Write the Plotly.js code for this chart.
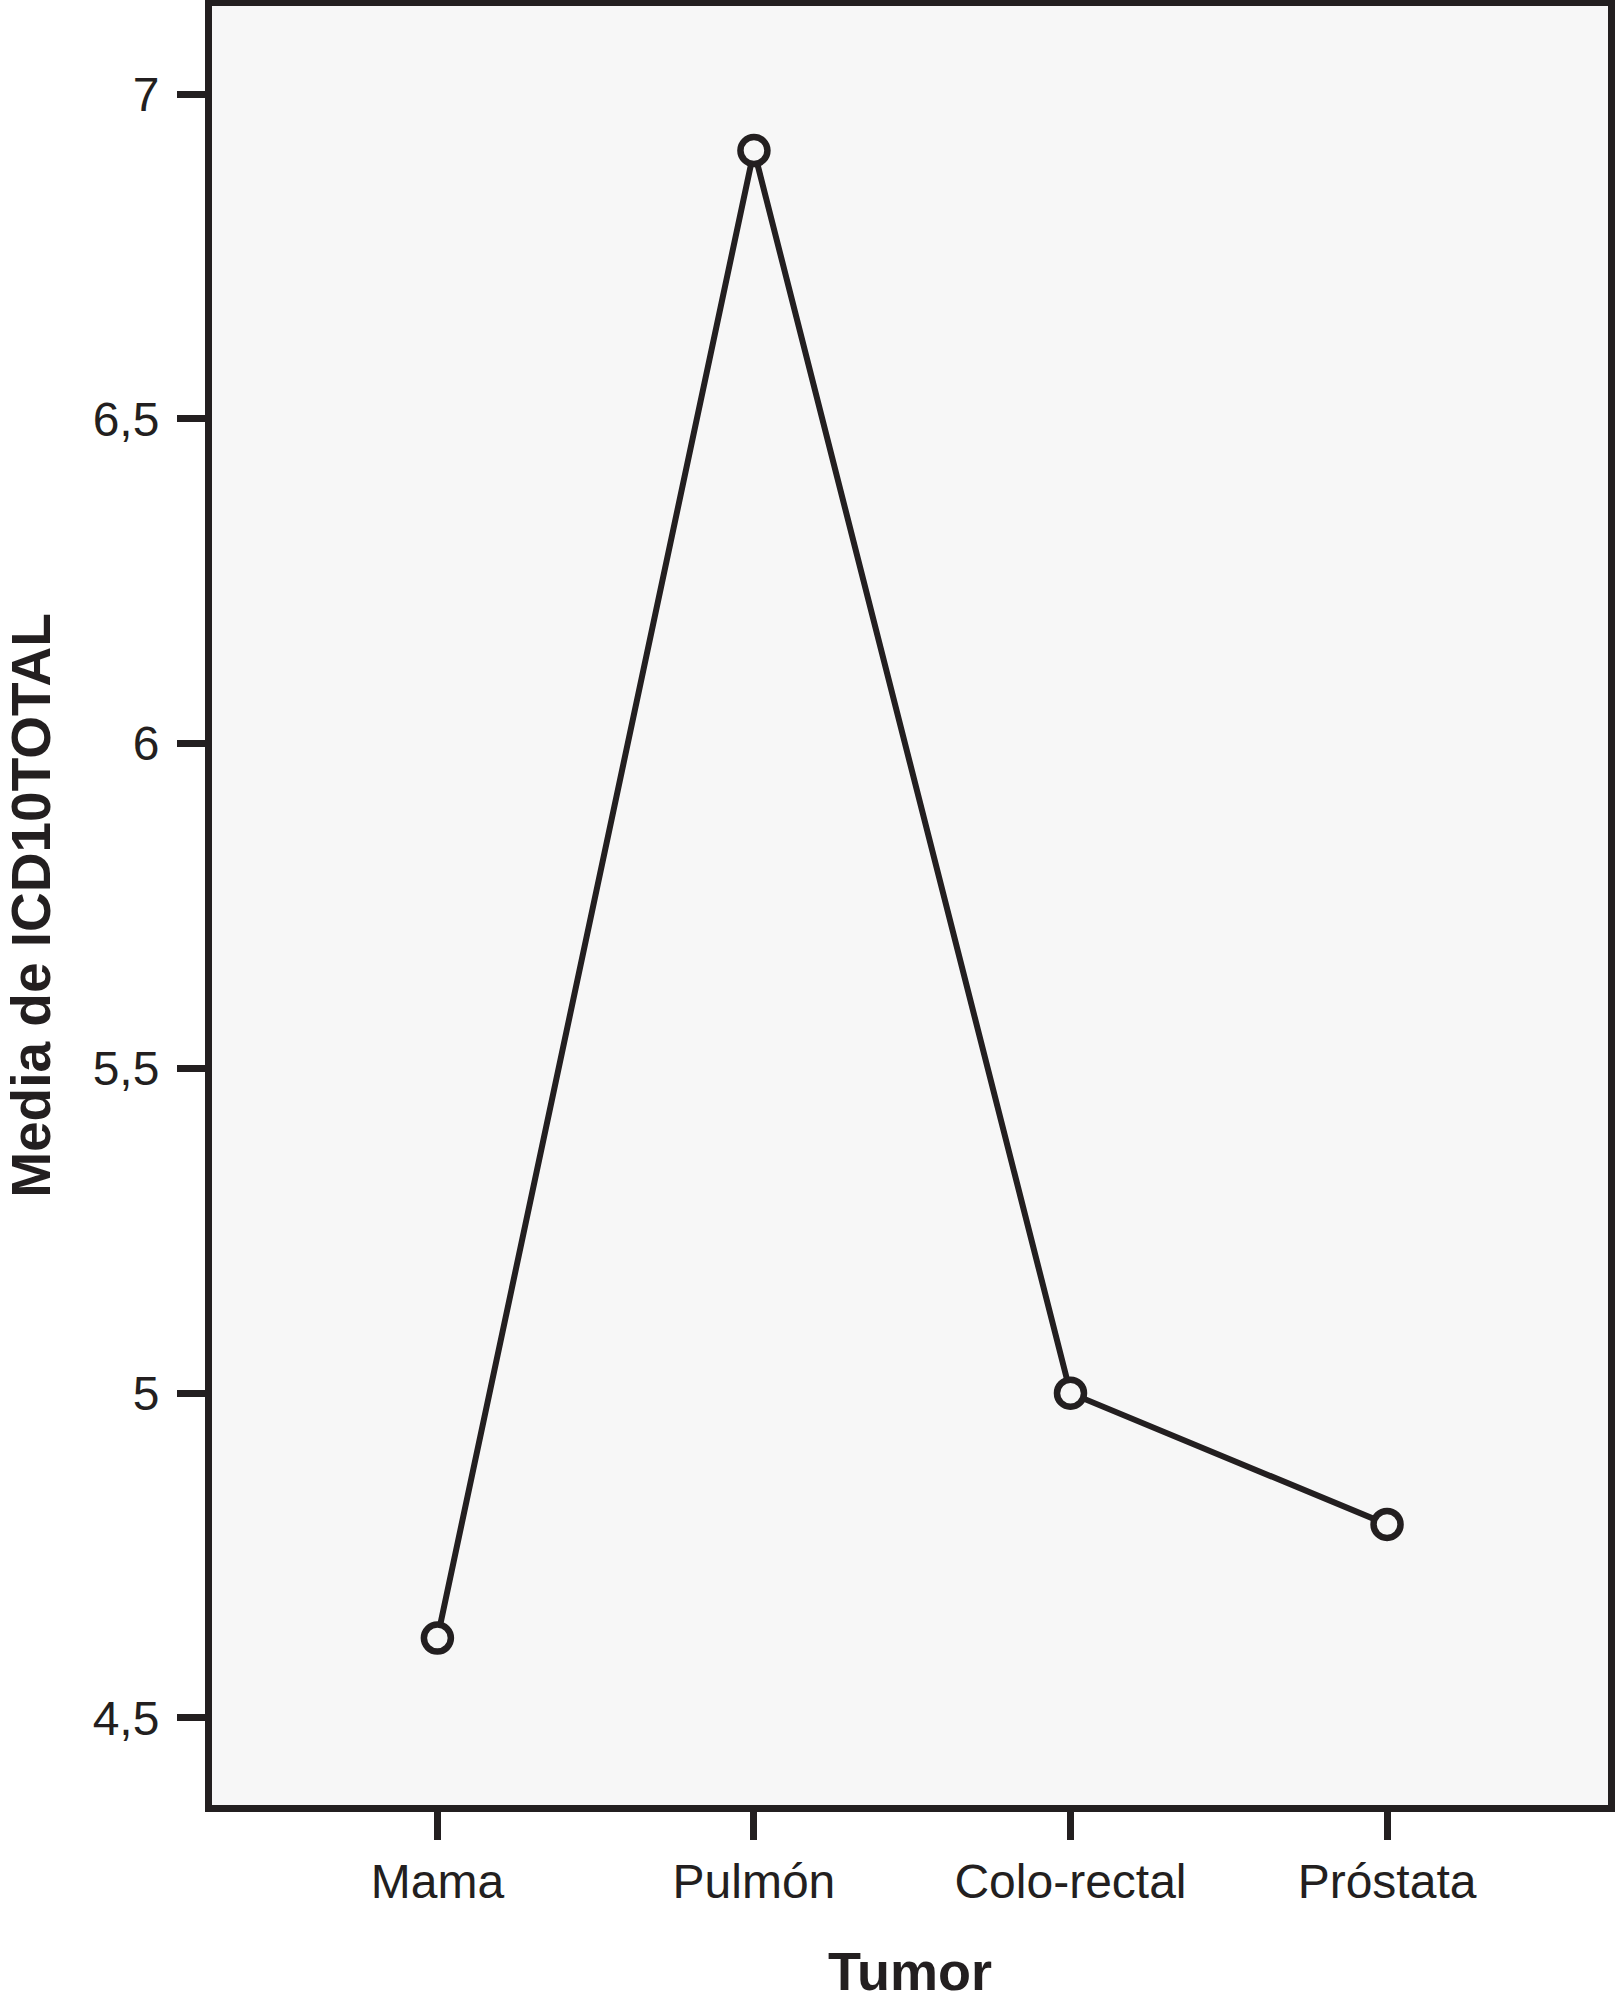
<!DOCTYPE html>
<html>
<head>
<meta charset="utf-8">
<script src="https://cdn.plot.ly/plotly-3.0.1.min.js"></script>
<style>html,body{margin:0;padding:0;background:#fff;}#chart{width:1615px;height:2001px;}</style>
</head>
<body>
<div id="chart"></div>
<script>
const categories = ["Mama", "Pulmón", "Colo-rectal", "Próstata"];
const meanValues = [4.623, 6.913, 5.0, 4.798];
const yTickValues = [4.5, 5, 5.5, 6, 6.5, 7];
const yTickLabels = ["4,5", "5", "5,5", "6", "6,5", "7"];
const xTitle = "Tumor";
const yTitle = "Media de ICD10TOTAL";

const ink = "#231f20";
const trace = {
  type: "scatter",
  mode: "lines+markers",
  x: categories.map((c, i) => i),
  y: meanValues,
  line: {color: ink, width: 6},
  marker: {symbol: "circle", size: 27, color: "#f7f7f7", line: {color: ink, width: 6.5}},
  hoverinfo: "skip"
};

const layout = {
  width: 1615, height: 2001,
  margin: {l: 212, r: 7, t: 6, b: 196},
  paper_bgcolor: "#ffffff",
  plot_bgcolor: "#f7f7f7",
  showlegend: false,
  font: {family: "Liberation Sans, Arial, sans-serif", color: ink},
  xaxis: {
    range: [-0.712, 3.698],
    tickvals: categories.map((c, i) => i),
    ticktext: categories,
    ticks: "outside", ticklen: 28, tickwidth: 7, tickcolor: ink,
    ticklabelstandoff: 0,
    tickfont: {size: 48, color: ink},
    showline: true, linewidth: 7, linecolor: ink, mirror: true,
    showgrid: false, zeroline: false,
    title: {text: xTitle, font: {size: 54, color: ink, family: "Liberation Sans, Arial, sans-serif", weight: "bold"}, standoff: 50}
  },
  yaxis: {
    range: [4.366, 7.1355],
    tickvals: yTickValues,
    ticktext: yTickLabels,
    ticks: "outside", ticklen: 28, tickwidth: 7, tickcolor: ink,
    ticklabelstandoff: 8,
    tickfont: {size: 48, color: ink},
    showline: true, linewidth: 7, linecolor: ink, mirror: true,
    showgrid: false, zeroline: false,
    title: {text: yTitle, font: {size: 55, color: ink, family: "Liberation Sans, Arial, sans-serif", weight: "bold"}, standoff: 30}
  }
};

Plotly.newPlot("chart", [trace], layout, {displayModeBar: false, staticPlot: true});
</script>
</body>
</html>
